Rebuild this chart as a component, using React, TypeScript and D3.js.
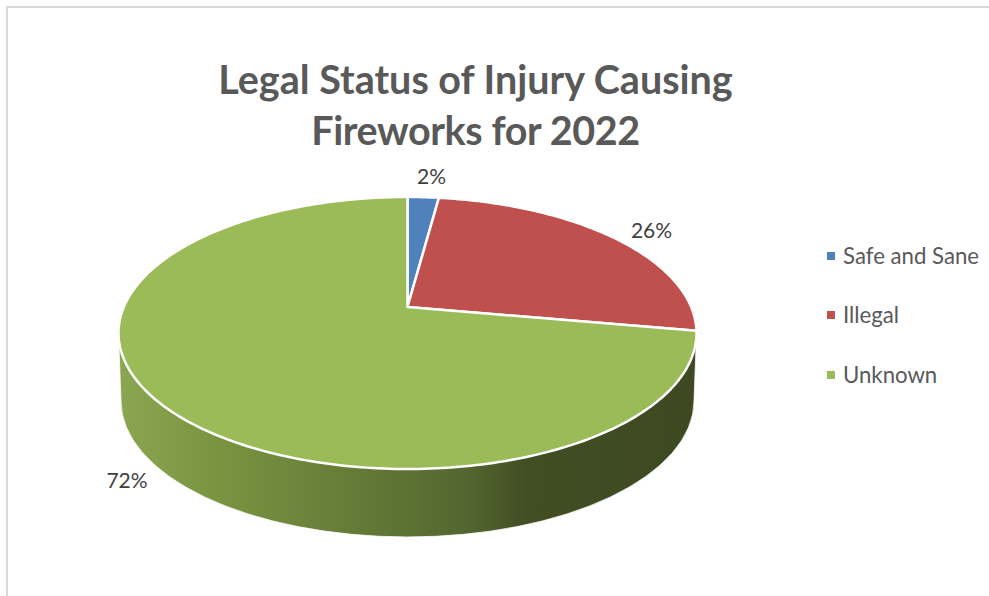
import React from "react";
import * as d3 from "d3";

const categories = ["Safe and Sane", "Illegal", "Unknown"];
const values = [2.1, 25.7, 72.2];
const valueLabels = ["2%", "26%", "72%"];
const colors = ["#4f81bd", "#c0504d", "#9bbb59"];
const titleLines = ["Legal Status of Injury Causing", "Fireworks for 2022"];
const titleSpacing = [0, -0.4];
const labelPositions = [
  [431.5, 184],
  [651.5, 238],
  [127, 488],
];
const legendY = [263.5, 322.5, 382.5];
const sideStops: [number, string][] = [
  [0, "#8aa650"],
  [0.2, "#76913f"],
  [0.42, "#637a37"],
  [0.6, "#536630"],
  [0.71, "#414d23"],
  [1, "#3e4921"],
];

const W = 989;
const H = 596;
const cx = 407.5;
const tipY = 307;
const topY = 197;
const botY = 469;
// Perspective projection of the pie's unit disc onto the page.
const persp = -52 / 272;
const a = tipY - topY + topY * persp;
const rx = 289;
const k = rx * Math.sqrt(1 - persp * persp);
const project = (t: number): [number, number] => {
  const u = Math.sin(t);
  const v = -Math.cos(t);
  const w = 1 + persp * v;
  return [cx + (k * u) / w, (a * v + tipY) / w];
};

const ellipseCy = (topY + botY) / 2;
const ry = (botY - topY) / 2;
const depth = 68;
const rxBottom = 286.5;

export default function App() {
  const pie = d3.pie<number>().sort(null).value((d) => d);
  const arcs = pie(values);
  const line = d3.line();
  const slicePath = (s: number, e: number) => {
    const n = Math.max(4, Math.ceil((e - s) * 60));
    const pts = d3.range(n + 1).map((i) => project(s + ((e - s) * i) / n));
    return line([[cx, tipY], ...pts, [cx, tipY]]) + "Z";
  };
  const xL = cx - rx;
  const xR = cx + rx;
  const by = ellipseCy + depth;
  const sidePath =
    `M${xL},${ellipseCy} L${cx - rxBottom},${by} ` +
    `A${rxBottom},${ry} 0 0 0 ${cx + rxBottom},${by} ` +
    `L${xR},${ellipseCy} A${rx},${ry} 0 0 1 ${xL},${ellipseCy}Z`;
  return (
    <svg
      width={W}
      height={H}
      viewBox={`0 0 ${W} ${H}`}
      style={{ position: "absolute", left: 0, top: 0, background: "#fff", fontFamily: "Lato" }}
    >
      <defs>
        <linearGradient id="side" gradientUnits="userSpaceOnUse" x1={xL} x2={xR} y1={0} y2={0}>
          {sideStops.map(([o, col]) => (
            <stop key={o} offset={o} stopColor={col} />
          ))}
        </linearGradient>
      </defs>
      <path d={`M7,${H}V7H${W}`} fill="none" stroke="#d9d9d9" strokeWidth={2} />
      {titleLines.map((t, i) => (
        <text
          key={t}
          x={475.5}
          y={94 + i * 51}
          textAnchor="middle"
          fontSize={39.5}
          fontWeight={700}
          fill="#595959"
          letterSpacing={titleSpacing[i]}
        >
          {t}
        </text>
      ))}
      <path d={sidePath} fill="url(#side)" stroke="#fff" strokeWidth={0.75} />
      {arcs.map((d, i) => (
        <path
          key={categories[i]}
          d={slicePath(d.startAngle, d.endAngle)}
          fill={colors[i]}
          stroke="#fff"
          strokeWidth={2.5}
          strokeLinejoin="round"
        />
      ))}
      {valueLabels.map((t, i) => (
        <text key={t} x={labelPositions[i][0]} y={labelPositions[i][1]} textAnchor="middle" fontSize={21} fill="#404040">
          {t}
        </text>
      ))}
      {categories.map((t, i) => (
        <g key={t}>
          <rect x={827} y={Math.floor(legendY[i]) - 11} width={8} height={8} fill={colors[i]} />
          <text x={843} y={legendY[i]} fontSize={22.2} fill="#595959">
            {t}
          </text>
        </g>
      ))}
    </svg>
  );
}
